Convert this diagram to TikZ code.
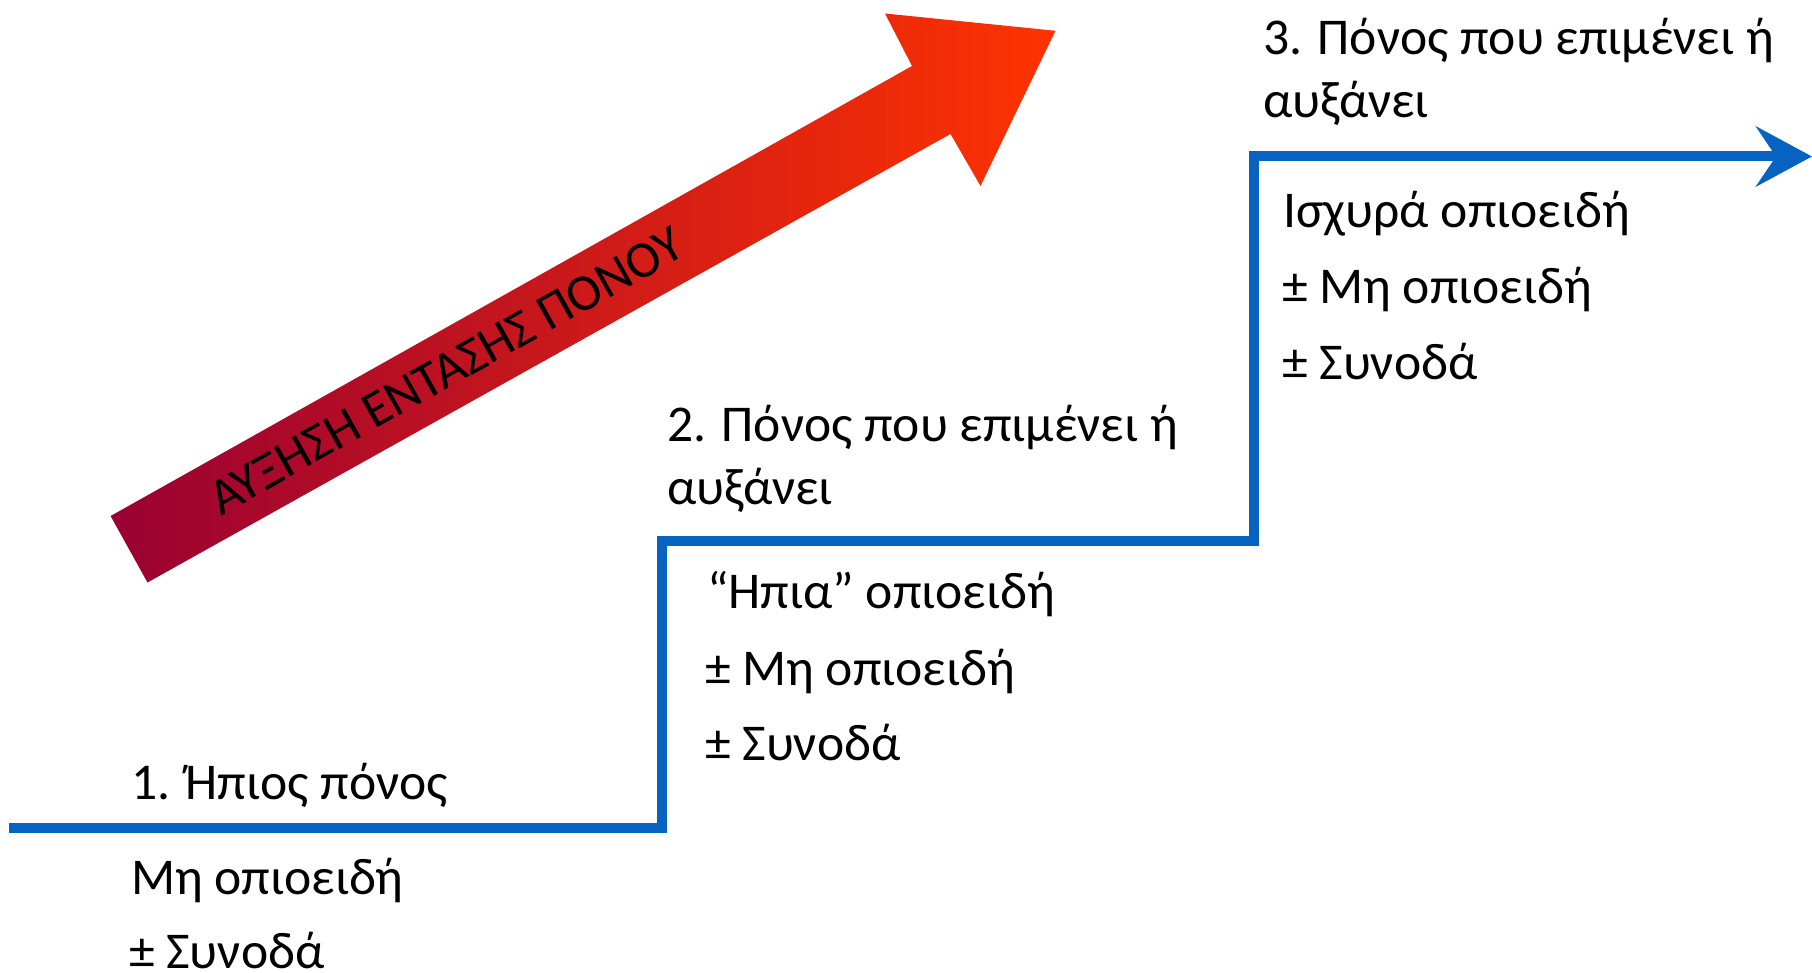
\documentclass[tikz,border=0pt]{standalone}
\usepackage{fontspec}
\setmainfont{Carlito}
\usetikzlibrary{arrows.meta}
\definecolor{stairblue}{RGB}{6,99,193}
\definecolor{arrowdark}{RGB}{153,0,51}
\definecolor{arrowlight}{RGB}{255,51,0}
\begin{document}
\begin{tikzpicture}[x=1pt,y=-1pt,
  txt/.style={anchor=base west, inner sep=0pt, outer sep=0pt, font=\fontsize{51.6}{62}\selectfont},
  stair/.style={line width=10pt, draw=stairblue, line join=miter}]
\useasboundingbox (0,0) rectangle (1812,973);
% rising arrow
\shade[left color=arrowdark, right color=arrowlight]
  (110.6,516) -- (912,66) -- (885,13.5) -- (1055.5,30.8) -- (980.5,186) -- (950.5,134) -- (147.5,582.5) -- cycle;
\node[txt, anchor=center, rotate=29.3] (trend) at (446,371) {ΑΥΞΗΣΗ ΕΝΤΑΣΗΣ ΠΟΝΟΥ};
% staircase
\coordinate (s0) at (9,828);
\coordinate (s1) at (662,828);
\coordinate (s2) at (662,541);
\coordinate (s3) at (1254,541);
\coordinate (s4) at (1254,156.5);
\coordinate (s5) at (1812,156.5);
\draw[stair, -{Stealth[length=56pt,width=60pt,inset=20pt]}] (s0) -- (s1) -- (s2) -- (s3) -- (s4) -- (s5);
% texts
\node[txt] (h1) at (131,799) {1. Ήπιος πόνος};
\node[txt] (h1a) at (131,894) {Μη οπιοειδή};
\node[txt] (h1b) at (129,968) {± Συνοδά};
\node[txt] (h2) at (667,441) {2. Πόνος που επιμένει ή};
\node[txt] (h2b) at (667,504) {αυξάνει};
\node[txt] (t2a) at (707,608) {“Ηπια” οπιοειδή};
\node[txt] (t2b) at (705,685) {± Μη οπιοειδή};
\node[txt] (t2c) at (705,760) {± Συνοδά};
\node[txt] (h3) at (1263,55) {3. Πόνος που επιμένει ή};
\node[txt] (h3b) at (1263,118) {αυξάνει};
\node[txt] (t3a) at (1283,228) {Ισχυρά οπιοειδή};
\node[txt] (t3b) at (1282,304) {± Μη οπιοειδή};
\node[txt] (t3c) at (1282,380) {± Συνοδά};
\end{tikzpicture}
\end{document}
